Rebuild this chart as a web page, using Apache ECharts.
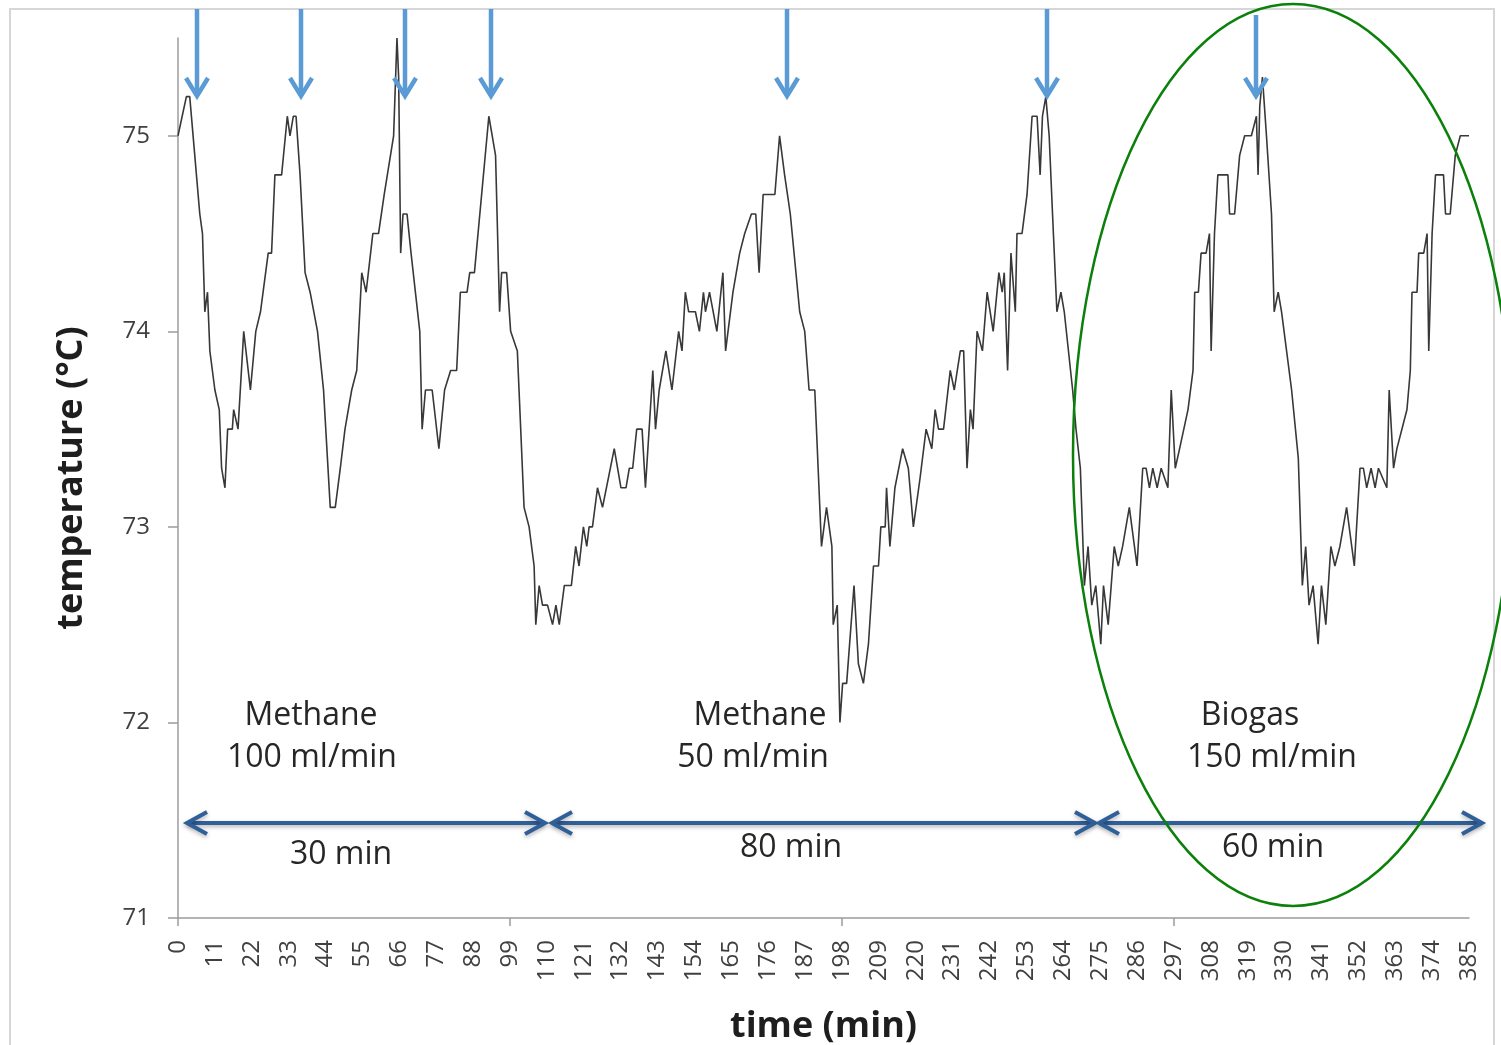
<!DOCTYPE html>
<html>
<head>
<meta charset="utf-8">
<script src="https://cdn.jsdelivr.net/npm/echarts@6/dist/echarts.min.js"></script>
<style>
  html, body { margin: 0; padding: 0; background: #ffffff; }
  #chart { width: 1501px; height: 1045px; }
</style>
</head>
<body>
<div id="chart"></div>
<script>
// Reactor temperature log (minutes since start, °C)
const minutes = [
  0, 0.5, 2.5, 3.5, 5, 6.5, 7.3, 8, 8.8, 9.5, 11, 12.3, 13, 14, 14.8, 16.2, 16.6, 17.9, 19.6, 21.6,
  23.2, 24.6, 26.9, 27.9, 28.9, 30.9, 32.6, 33.4, 34.4, 35.2, 36.4, 37.9, 39.4, 41.6, 43.4, 45.4, 46.9, 48.4, 49.8, 51.8,
  53.3, 54.8, 56.1, 58.1, 59.8, 61.5, 64.3, 65.3, 65.8, 66.4, 67.1, 68.3, 69.5, 72.1, 72.8, 73.8, 75.8, 77.8, 79.5, 81.3,
  83.1, 84.2, 86.2, 87, 88.4, 92.7, 94.7, 95.9, 96.5, 98, 99.2, 101.2, 103.2, 104.7, 106.2, 106.7, 107.7, 108.7, 110.2, 111.7,
  112.7, 113.7, 115.2, 117.3, 118.6, 119.6, 120.9, 121.9, 122.6, 123.6, 125.1, 126.6, 130.1, 132.1, 133.6, 134.6, 135.6, 136.8, 138.4, 139.4,
  141.6, 142.4, 143.5, 145.5, 147.3, 149.3, 150.3, 151.3, 152.3, 154.3, 155.5, 156.7, 157.3, 158.5, 160.7, 162.5, 163.3, 165.5, 167.5, 169,
  171, 172.3, 173.3, 174.5, 178, 179.4, 180.9, 182.6, 185.4, 186.9, 188.2, 189.9, 191.9, 193.4, 195, 195.4, 196.6, 197.4, 198.2, 199.4,
  201.6, 202.9, 204.4, 205.9, 207.4, 208.9, 209.6, 210.9, 211.3, 212.3, 213.8, 216.1, 217.8, 219.3, 221.3, 223.1, 224.8, 225.8, 226.8, 228.3,
  230.3, 231.5, 233.3, 234.3, 235.3, 236.3, 237.1, 238.3, 239.9, 241.3, 243.1, 244.8, 245.8, 246.4, 247.4, 248.4, 249.7, 250.2, 251.7, 253.2,
  254.7, 256.2, 257.1, 257.8, 258.8, 259.8, 260.8, 262.1, 263.3, 264.3, 266.8, 267.8, 269.1, 270.3, 271.4, 272.5, 273.7, 274.2, 275.2, 276,
  277.4, 279.2, 280.4, 281.7, 283.7, 286, 287.7, 288.7, 289.7, 290.7, 292, 293.2, 295.2, 296.2, 297.4, 298.7, 301.2, 302.7, 303.2, 304.3,
  305.1, 306.6, 307.6, 308.1, 309.1, 310.1, 311.6, 313.1, 313.6, 315.1, 316.6, 318.1, 320.1, 321.6, 322.1, 322.6, 323.4, 324.6, 326.1, 326.9,
  328.1, 329.1, 332.1, 334.1, 335.3, 336.3, 337.3, 338.5, 339, 340, 341, 342.3, 343.8, 345, 346.5, 348.5, 350.8, 352.5, 353.5, 354.5,
  355.8, 357, 358, 360.5, 361.2, 362.5, 363.5, 366.5, 367.5, 368, 369.5, 370, 371.5, 372.5, 373, 374, 375, 376.5, 377.4, 378,
  379.4, 380.9, 382.4, 385
];
const temperature = [
  75.0, 75.0, 75.2, 75.2, 74.9, 74.6, 74.5, 74.1, 74.2, 73.9, 73.7, 73.6, 73.3, 73.2, 73.5, 73.5, 73.6, 73.5, 74.0, 73.7,
  74.0, 74.1, 74.4, 74.4, 74.8, 74.8, 75.1, 75.0, 75.1, 75.1, 74.8, 74.3, 74.2, 74.0, 73.7, 73.1, 73.1, 73.3, 73.5, 73.7,
  73.8, 74.3, 74.2, 74.5, 74.5, 74.7, 75.0, 75.5, 75.3, 74.4, 74.6, 74.6, 74.4, 74.0, 73.5, 73.7, 73.7, 73.4, 73.7, 73.8,
  73.8, 74.2, 74.2, 74.3, 74.3, 75.1, 74.9, 74.1, 74.3, 74.3, 74.0, 73.9, 73.1, 73.0, 72.8, 72.5, 72.7, 72.6, 72.6, 72.5,
  72.6, 72.5, 72.7, 72.7, 72.9, 72.8, 73.0, 72.9, 73.0, 73.0, 73.2, 73.1, 73.4, 73.2, 73.2, 73.3, 73.3, 73.5, 73.5, 73.2,
  73.8, 73.5, 73.7, 73.9, 73.7, 74.0, 73.9, 74.2, 74.1, 74.1, 74.0, 74.2, 74.1, 74.2, 74.0, 74.3, 73.9, 74.2, 74.4, 74.5,
  74.6, 74.6, 74.3, 74.7, 74.7, 75.0, 74.8, 74.6, 74.1, 74.0, 73.7, 73.7, 72.9, 73.1, 72.9, 72.5, 72.6, 72.0, 72.2, 72.2,
  72.7, 72.3, 72.2, 72.4, 72.8, 72.8, 73.0, 73.0, 73.2, 72.9, 73.2, 73.4, 73.3, 73.0, 73.25, 73.5, 73.4, 73.6, 73.5, 73.5,
  73.8, 73.7, 73.9, 73.9, 73.3, 73.6, 73.5, 74.0, 73.9, 74.2, 74.0, 74.3, 74.2, 74.3, 73.8, 74.4, 74.1, 74.5, 74.5, 74.7,
  75.1, 75.1, 74.8, 75.1, 75.2, 75.0, 74.6, 74.1, 74.2, 74.1, 73.7, 73.5, 73.3, 72.7, 72.9, 72.6, 72.7, 72.6, 72.4, 72.7,
  72.5, 72.9, 72.8, 72.9, 73.1, 72.8, 73.3, 73.3, 73.2, 73.3, 73.2, 73.3, 73.2, 73.7, 73.3, 73.4, 73.6, 73.8, 74.2, 74.2,
  74.4, 74.4, 74.5, 73.9, 74.5, 74.8, 74.8, 74.8, 74.6, 74.6, 74.9, 75.0, 75.0, 75.1, 74.8, 75.15, 75.3, 75.0, 74.6, 74.1,
  74.2, 74.1, 73.7, 73.35, 72.7, 72.9, 72.6, 72.7, 72.6, 72.4, 72.7, 72.5, 72.9, 72.8, 72.9, 73.1, 72.8, 73.3, 73.3, 73.2,
  73.3, 73.2, 73.3, 73.2, 73.7, 73.3, 73.4, 73.6, 73.8, 74.2, 74.2, 74.4, 74.4, 74.5, 73.9, 74.5, 74.8, 74.8, 74.8, 74.6,
  74.6, 74.9, 75.0, 75.0
];

// Axis labels and ticks
const xTickLabels = [0, 11, 22, 33, 44, 55, 66, 77, 88, 99, 110, 121, 132, 143, 154, 165, 176, 187, 198, 209,
  220, 231, 242, 253, 264, 275, 286, 297, 308, 319, 330, 341, 352, 363, 374, 385];
const xMajorTicks = [0, 99, 198, 297];
const yTickLabels = [71, 72, 73, 74, 75];

// Gas feed periods and their durations
const periodNames = ['Methane', 'Methane', 'Biogas'];
const periodFlows = ['100 ml/min', '50 ml/min', '150 ml/min'];
const periodDurations = ['30 min', '80 min', '60 min'];

const FONT = '"Open Sans", "Liberation Sans", sans-serif';
const chart = echarts.init(document.getElementById('chart'), null, { renderer: 'canvas' });

const seriesData = minutes.map((m, i) => [m, temperature[i]]);

// Overlay drawing: frame, feed-switch arrows, period arrows, labels, highlight ellipse
const LIGHT_BLUE = '#5b9bd5';
const DARK_BLUE = '#2f5f98';
const graphics = [];

graphics.push({
  type: 'rect', z: 1, silent: true,
  shape: { x: 10, y: 9, width: 1484, height: 1100 },
  style: { fill: 'none', stroke: '#d6d6d6', lineWidth: 2 }
});

const feedArrowX = [197, 301, 405, 491, 787, 1047, 1256];
const feedArrowTop = [9, 9, 9, 9, 9, 9, 15];
feedArrowX.forEach((x, i) => {
  graphics.push({
    type: 'polyline', z: 20, silent: true,
    shape: { points: [[x, feedArrowTop[i]], [x, 95]] },
    style: { stroke: LIGHT_BLUE, lineWidth: 4.5, fill: 'none' }
  });
  graphics.push({
    type: 'polyline', z: 20, silent: true,
    shape: { points: [[x - 11, 78], [x, 96], [x + 11, 78]] },
    style: { stroke: LIGHT_BLUE, lineWidth: 4.5, fill: 'none', lineJoin: 'miter' }
  });
});

const spanArrows = [[187, 545], [552, 1095], [1099, 1482]];
const spanY = 823;
spanArrows.forEach(([x1, x2]) => {
  const common = {
    stroke: DARK_BLUE, lineWidth: 4, fill: 'none', lineJoin: 'miter',
    shadowColor: 'rgba(0,0,0,0.3)', shadowBlur: 4, shadowOffsetY: 2
  };
  graphics.push({ type: 'polyline', z: 20, silent: true, shape: { points: [[x1 + 2, spanY], [x2 - 2, spanY]] }, style: common });
  graphics.push({ type: 'polyline', z: 20, silent: true, shape: { points: [[x1 + 20, spanY - 11], [x1, spanY], [x1 + 20, spanY + 11]] }, style: common });
  graphics.push({ type: 'polyline', z: 20, silent: true, shape: { points: [[x2 - 20, spanY - 11], [x2, spanY], [x2 - 20, spanY + 11]] }, style: common });
});

function label(text, x, y) {
  return {
    type: 'text', z: 30, silent: true,
    style: {
      text: text, x: x, y: y,
      align: 'center', verticalAlign: 'middle', textAlign: 'center', textVerticalAlign: 'middle',
      font: '32px ' + FONT, fill: '#262626'
    }
  };
}
const nameX = [311, 760, 1250];
const flowX = [312, 753, 1272];
const durX = [341, 791, 1273];
const durY = [855, 848, 848];
for (let i = 0; i < 3; i++) {
  graphics.push(label(periodNames[i], nameX[i], 716));
  graphics.push(label(periodFlows[i], flowX[i], 758));
  graphics.push(label(periodDurations[i], durX[i], durY[i]));
}

graphics.push({
  type: 'ellipse', z: 25, silent: true,
  shape: { cx: 1293, cy: 455, rx: 220, ry: 451 },
  style: { fill: 'none', stroke: '#0b800b', lineWidth: 2.5 }
});

chart.setOption({
  animation: false,
  backgroundColor: '#ffffff',
  grid: { left: 178, right: 32, top: 38, bottom: 127, containLabel: false, outerBoundsMode: 'none' },
  xAxis: {
    type: 'value', min: 0, max: 385,
    name: 'time (min)', nameLocation: 'middle', nameGap: 91,
    nameTextStyle: { fontFamily: FONT, fontWeight: 'bold', fontSize: 36, color: '#1e1e1e' },
    axisLine: { show: true, lineStyle: { color: '#9c9c9c', width: 1.5 } },
    axisTick: { show: true, customValues: xMajorTicks, length: 8, lineStyle: { color: '#9c9c9c', width: 1.5 } },
    axisLabel: { customValues: xTickLabels, rotate: 90, fontFamily: FONT, fontSize: 24, color: '#404040', margin: 22 },
    splitLine: { show: false }
  },
  yAxis: {
    type: 'value', min: 71, max: 75.5,
    name: 'temperature (°C)', nameLocation: 'middle', nameGap: 88, nameRotate: 90,
    nameTextStyle: { fontFamily: FONT, fontWeight: 'bold', fontSize: 36, color: '#1e1e1e' },
    axisLine: { show: true, lineStyle: { color: '#9c9c9c', width: 1.5 } },
    axisTick: { show: true, customValues: yTickLabels, length: 10, lineStyle: { color: '#9c9c9c', width: 1.5 } },
    axisLabel: { customValues: yTickLabels, fontFamily: FONT, fontSize: 24, color: '#404040', margin: 28, padding: [16, 0, 0, 0] },
    splitLine: { show: false }
  },
  series: [{
    type: 'line',
    data: seriesData,
    showSymbol: false,
    lineStyle: { color: '#383838', width: 1.6 },
    z: 5
  }],
  graphic: graphics
});
</script>
</body>
</html>
